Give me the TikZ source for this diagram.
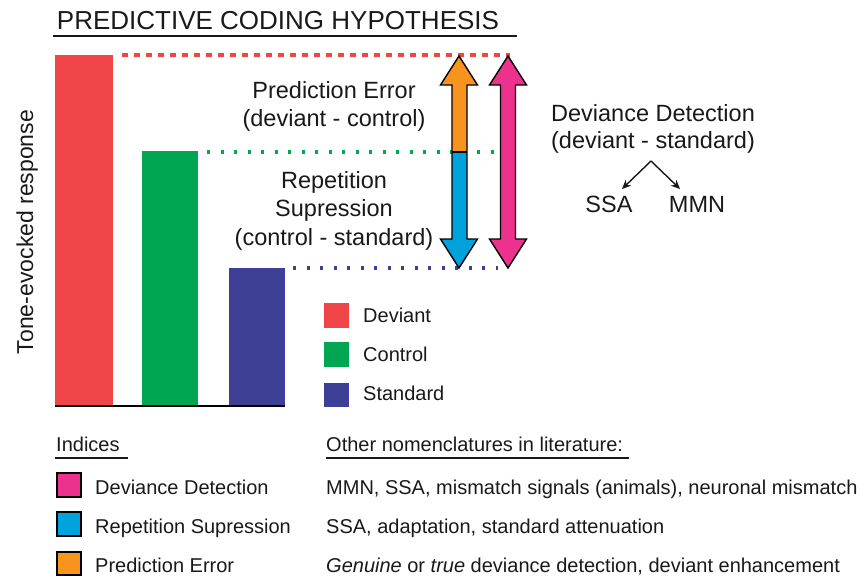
\documentclass[tikz,border=0pt]{standalone}
\usepackage{fontspec}
\setmainfont{Liberation Sans}
\usetikzlibrary{arrows.meta}
\definecolor{cdev}{RGB}{239,69,72}
\definecolor{cctl}{RGB}{0,166,81}
\definecolor{cstd}{RGB}{62,64,149}
\definecolor{corg}{RGB}{247,148,29}
\definecolor{ccyn}{RGB}{0,162,219}
\definecolor{cmag}{RGB}{236,50,140}
\definecolor{ctxt}{RGB}{25,25,25}
\tikzset{
  lbl/.style={inner sep=0pt, anchor=base, text=ctxt, font=\fontsize{23.5}{26}\selectfont},
  lbls/.style={inner sep=0pt, anchor=base west, text=ctxt, font=\fontsize{20}{24}\selectfont},
  keysq/.style={draw=black, line width=1.3pt},
  uline/.style={draw=ctxt, line width=1.8pt},
  arrowout/.style={draw=black, line width=1.4pt, line join=miter},
  ptr/.style={draw=ctxt, line width=1.4pt, -{Stealth[length=9pt,width=8pt]}},
  dotline/.style={line width=3.4pt, dash pattern=on 3.2pt off 10.3pt},
}
\begin{document}
\begin{tikzpicture}[x=1pt,y=-1pt]
\useasboundingbox (0,0) rectangle (867,580);
% title
\node[lbl, font=\fontsize{26}{30}\selectfont] (title) at (278,30) {PREDICTIVE CODING HYPOTHESIS};
\draw[uline] (53,36) -- (517,36);
% bars
\fill[cdev] (55,55) rectangle (113,406);
\fill[cctl] (142,151) rectangle (198,406);
\fill[cstd] (229,268) rectangle (285,406);
\draw[black, line width=1.5pt] (55,406) -- (285,406);
% level lines
\draw[cdev, line width=3.4pt, dash pattern=on 5.5pt off 6.5pt] (122,55) -- (510,55);
\draw[cctl, dotline] (207,152) -- (498,152);
\draw[cstd, dotline] (293,268) -- (498,268);
% y label
\node[lbl, rotate=90, font=\fontsize{23}{26}\selectfont] (ylab) at (33,232) {Tone-evocked response};
% middle labels
\node[lbl] (pe1) at (334,99) {Prediction Error};
\node[lbl] (pe2) at (334,127) {(deviant - control)};
\node[lbl] (rs1) at (334,189) {Repetition};
\node[lbl] (rs2) at (334,217) {Supression};
\node[lbl] (rs3) at (334,245) {(control - standard)};
% orange / cyan arrow
\fill[corg] (459,56) -- (477.5,85) -- (467,85) -- (467,152) -- (452,152) -- (452,85) -- (440.5,85) -- cycle;
\fill[ccyn] (452,152) -- (467,152) -- (467,239) -- (477.5,239) -- (459,268) -- (440.5,239) -- (452,239) -- cycle;
\draw[arrowout] (459,56) -- (477.5,85) -- (467,85) -- (467,239) -- (477.5,239) -- (459,268) -- (440.5,239) -- (452,239) -- (452,85) -- (440.5,85) -- cycle;
\draw[arrowout] (452,152) -- (467,152);
% magenta arrow
\filldraw[fill=cmag, arrowout] (508,56) -- (526.5,85) -- (515.5,85) -- (515.5,239) -- (526.5,239) -- (508,268) -- (489.5,239) -- (500.5,239) -- (500.5,85) -- (489.5,85) -- cycle;
% deviance detection
\node[lbl] (dd1) at (653,122) {Deviance Detection};
\node[lbl] (dd2) at (653,149) {(deviant - standard)};
\node[lbl] (ssa) at (609,213) {SSA};
\node[lbl] (mmn) at (697,213) {MMN};
\coordinate (apex) at (651,161);
\coordinate (ssatip) at (622,189);
\coordinate (mmntip) at (680,189);
\draw[ptr] (apex) -- (ssatip);
\draw[ptr] (apex) -- (mmntip);
% bar legend
\fill[cdev] (324,303) rectangle (349,328);
\fill[cctl] (324,342) rectangle (349,367);
\fill[cstd] (324,383) rectangle (349,407);
\node[lbls] (kdev) at (363,322) {Deviant};
\node[lbls] (kctl) at (363,361) {Control};
\node[lbls] (kstd) at (363,400) {Standard};
% bottom legend
\node[lbls] (ind) at (56,451) {Indices};
\draw[uline] (55,458) -- (128,458);
\node[lbls] (oth) at (326,451) {Other nomenclatures in literature:};
\draw[uline] (326,458) -- (629,458);
\filldraw[keysq, fill=cmag] (57,473) rectangle (81,497);
\filldraw[keysq, fill=ccyn] (57,512) rectangle (81,536);
\filldraw[keysq, fill=corg] (57,552) rectangle (81,575);
\node[lbls] (i1) at (95,494) {Deviance Detection};
\node[lbls] (i2) at (95,533) {Repetition Supression};
\node[lbls] (i3) at (95,572) {Prediction Error};
\node[lbls] (o1) at (326,494) {MMN, SSA, mismatch signals (animals), neuronal mismatch};
\node[lbls] (o2) at (326,533) {SSA, adaptation, standard attenuation};
\node[lbls] (o3) at (326,572) {\textit{Genuine} or \textit{true} deviance detection, deviant enhancement};
\end{tikzpicture}
\end{document}
